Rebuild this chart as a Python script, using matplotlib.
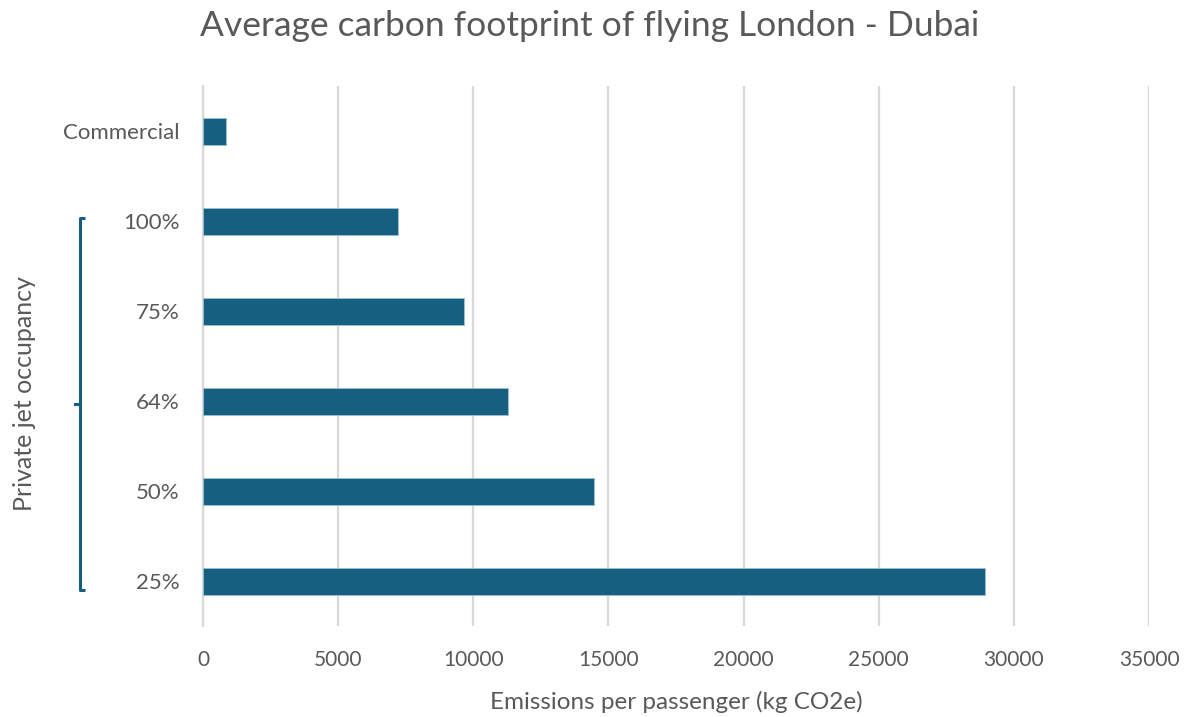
import numpy as np
import matplotlib.pyplot as plt
from matplotlib.transforms import blended_transform_factory

categories = ["Commercial", "100%", "75%", "64%", "50%", "25%"]
emissions = [840, 7230, 9640, 11300, 14460, 28930]
x_ticks = [0, 5000, 10000, 15000, 20000, 25000, 30000, 35000]

bar_color = "#175f80"
text_color = "#595959"
grid_color = "#d9d9d9"

plt.rcParams["font.family"] = ["Lato", "DejaVu Sans"]

fig = plt.figure(figsize=(11.85, 7.17), dpi=100)
ax = fig.add_axes([0.1713, 0.1269, 0.7983, 0.7531])

ypos = np.arange(len(categories))
ax.barh(ypos, emissions, height=0.3, color=bar_color, edgecolor="#9cc0d3",
        linewidth=0.6, zorder=3)

ax.set_xlim(0, 35000)
ax.set_ylim(len(categories) - 0.5, -0.5)
ax.set_xticks(x_ticks)
ax.set_xticklabels([str(t) for t in x_ticks])
ax.set_yticks(ypos)
ax.set_yticklabels(categories)
ax.tick_params(axis="both", length=0, labelcolor=text_color)
ax.tick_params(axis="x", pad=17, labelsize=15)
ax.tick_params(axis="y", pad=17, labelsize=16)

ax.grid(axis="x", color=grid_color, linewidth=1.6, zorder=0)
for side in ["top", "right", "bottom"]:
    ax.spines[side].set_visible(False)
ax.spines["left"].set_color(grid_color)
ax.spines["left"].set_linewidth(1.6)

fig.text(676 / 1185, 1 - 702 / 717, "Emissions per passenger (kg CO2e)",
         ha="center", va="center", fontsize=17.5, color=text_color)
fig.text(590 / 1185, 1 - 26 / 717, "Average carbon footprint of flying London - Dubai",
         ha="center", va="center", fontsize=25.5, color=text_color)

# bracket grouping the private jet rows
tr = blended_transform_factory(fig.transFigure, ax.transData)
bx = 80 / 1185
hook = 5 / 1185
top, bottom = 0.97, 5.1
mid = (top + bottom) / 2
ax.plot([bx + hook, bx, bx, bx + hook], [top, top, bottom, bottom],
        color=bar_color, linewidth=2.2, transform=tr, clip_on=False,
        solid_capstyle="butt", solid_joinstyle="round")
ax.plot([bx - hook, bx], [mid, mid], color=bar_color, linewidth=2.2,
        transform=tr, clip_on=False)
fig.text(25 / 1185, 1 - 394 / 717, "Private jet occupancy", rotation=90,
         ha="center", va="center", fontsize=18, color=text_color)

fig.savefig("out.png", dpi=100)
